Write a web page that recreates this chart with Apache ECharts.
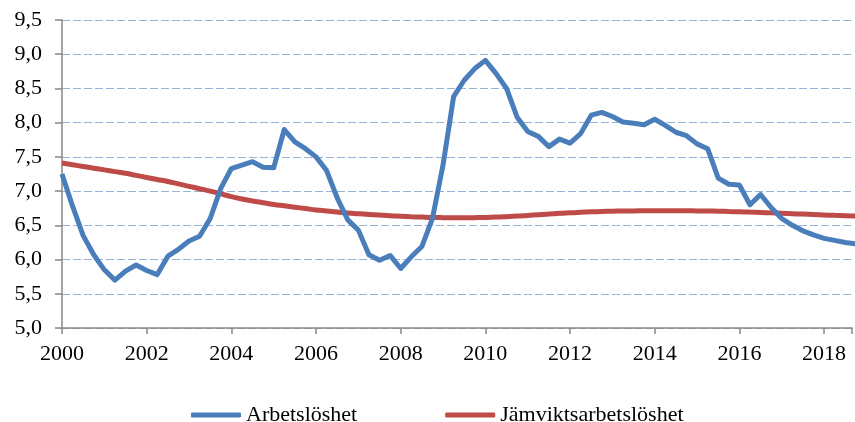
<!DOCTYPE html>
<html>
<head>
<meta charset="utf-8">
<script src="https://cdn.jsdelivr.net/npm/echarts@6/dist/echarts.min.js"></script>
<style>
  html, body {margin: 0; padding: 0; background: #fff;}
  #chart {width: 855px; height: 422px;}
</style>
</head>
<body>
<div id="chart"></div>
<script>
// kvartalsdata 2000 Q1 - 2018 Q4
const years = [];
for (let y = 2000; y <= 2018; y++) years.push(y);

const arbetsloshet = [
  7.25, 6.78, 6.35, 6.07,
  5.85, 5.70, 5.83, 5.92,
  5.84, 5.78, 6.05, 6.15,
  6.27, 6.34, 6.60, 7.04,
  7.33, 7.38, 7.43, 7.35,
  7.34, 7.90, 7.72, 7.62,
  7.50, 7.30, 6.90, 6.58,
  6.43, 6.07, 5.99, 6.06,
  5.87, 6.04, 6.19, 6.60,
  7.38, 8.38, 8.62, 8.79,
  8.91, 8.72, 8.50, 8.08,
  7.87, 7.80, 7.65, 7.76,
  7.70, 7.84, 8.11, 8.15,
  8.09, 8.01, 7.99, 7.97,
  8.05, 7.96, 7.86, 7.81,
  7.69, 7.62, 7.19, 7.10,
  7.09, 6.80, 6.95, 6.76,
  6.60, 6.50, 6.42, 6.36,
  6.31, 6.28, 6.25, 6.23
];

const jamvikt = [
  7.41, 7.385, 7.36, 7.335,
  7.31, 7.285, 7.26, 7.23,
  7.20, 7.17, 7.14, 7.105,
  7.07, 7.035, 7.00, 6.96,
  6.92, 6.885, 6.855, 6.83,
  6.805, 6.785, 6.765, 6.745,
  6.725, 6.71, 6.695, 6.68,
  6.67, 6.66, 6.65, 6.64,
  6.633, 6.626, 6.62, 6.615,
  6.612, 6.61, 6.61, 6.612,
  6.615, 6.62, 6.627, 6.635,
  6.645, 6.655, 6.665, 6.675,
  6.684, 6.691, 6.697, 6.702,
  6.706, 6.709, 6.711, 6.712,
  6.713, 6.713, 6.713, 6.712,
  6.711, 6.709, 6.706, 6.702,
  6.698, 6.693, 6.688, 6.682,
  6.676, 6.67, 6.664, 6.658,
  6.652, 6.646, 6.641, 6.636
];

const seriesNames = ['Arbetslöshet', 'Jämviktsarbetslöshet'];

// tidpunkt för varje kvartal
const quarters = [];
years.forEach((y) => {
  for (let q = 0; q < 4; q++) quarters.push(y + q / 4);
});

const toPairs = (values) => values.map((v, i) => [quarters[i], v]);

const font = 'Liberation Serif';
const axisGray = '#868686';

let chart = echarts.init(document.getElementById('chart'));
chart.setOption({
  animation: false,
  grid: {
    left: 62,
    right: 0,
    top: 20,
    bottom: 94
  },
  legend: {
    data: seriesNames,
    left: 186,
    top: 399,
    itemWidth: 50,
    itemHeight: 5,
    itemGap: 88,
    icon: 'roundRect',
    textStyle: {fontFamily: font, fontSize: 22, color: '#000'}
  },
  xAxis: {
    type: 'value',
    min: 2000,
    max: 2018.66,
    interval: 2,
    axisLine: {lineStyle: {color: axisGray, width: 1.5}},
    axisTick: {show: true, length: 6, lineStyle: {color: axisGray, width: 1.5}},
    axisLabel: {
      margin: 15,
      fontFamily: font,
      fontSize: 22,
      color: '#000',
      formatter: (v) => (v % 2 === 0 ? String(v) : '')
    },
    splitLine: {show: false}
  },
  yAxis: {
    type: 'value',
    min: 5,
    max: 9.5,
    interval: 0.5,
    axisLine: {show: true, lineStyle: {color: axisGray, width: 1.5}},
    axisTick: {show: true, length: 7, lineStyle: {color: axisGray, width: 1.5}},
    axisLabel: {
      margin: 20,
      fontFamily: font,
      fontSize: 22,
      color: '#000',
      formatter: (v) => v.toFixed(1).replace('.', ',')
    },
    splitLine: {
      lineStyle: {color: '#95B3D7', width: 1.2, type: [8, 3]}
    }
  },
  series: [
    {
      name: seriesNames[0],
      type: 'line',
      data: toPairs(arbetsloshet),
      showSymbol: false,
      symbol: 'none',
      itemStyle: {color: '#4A7EBB'},
      lineStyle: {color: '#4A7EBB', width: 5, join: 'round'},
      z: 3
    },
    {
      name: seriesNames[1],
      type: 'line',
      data: toPairs(jamvikt),
      showSymbol: false,
      symbol: 'none',
      smooth: true,
      itemStyle: {color: '#BE4B48'},
      lineStyle: {color: '#BE4B48', width: 5},
      z: 2
    }
  ]
});
</script>
</body>
</html>
